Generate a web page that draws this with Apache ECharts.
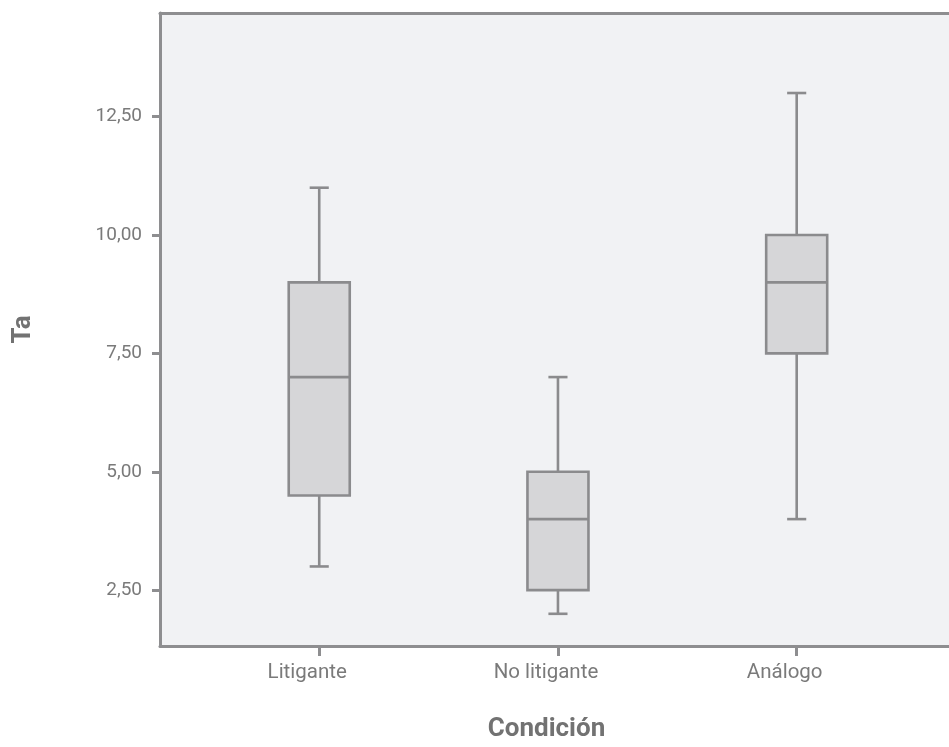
<!DOCTYPE html>
<html>
<head>
<meta charset="utf-8">
<script src="https://cdn.jsdelivr.net/npm/echarts@6/dist/echarts.min.js"></script>
<style>html,body{margin:0;padding:0;background:#fff}#c{width:949px;height:747px}</style>
</head>
<body>
<div id="c"></div>
<script>
const categories = ['Litigante', 'No litigante', 'Análogo'];
const mins    = [3, 2, 4];
const q1s     = [4.5, 2.5, 7.5];
const medians = [7, 4, 9];
const q3s     = [9, 5, 10];
const maxs    = [11, 7, 13];
const yTicks  = [2.5, 5, 7.5, 10, 12.5];

const data = categories.map((c, i) => [i + 1, mins[i], q1s[i], medians[i], q3s[i], maxs[i]]);

const lineColor = '#8b8b8d';
const axisColor = '#8e8e90';
const labelColor = '#7a7a7a';
const titleColor = '#727272';

const chart = echarts.init(document.getElementById('c'), null, {renderer: 'canvas'});
chart.setOption({
  animation: false,
  grid: {left: 160, right: 0, top: 13, bottom: 100, show: true, backgroundColor: '#f1f2f4', borderWidth: 0},
  xAxis: [{
    type: 'value', min: 0.333, max: 3.638,
    name: 'Condición', nameLocation: 'middle', nameGap: 70,
    nameTextStyle: {fontFamily: 'Roboto', fontWeight: 'bold', fontSize: 26, color: titleColor, padding: [0, 16, 0, 0]},
    axisLine: {show: true, lineStyle: {color: axisColor, width: 3}},
    axisTick: {show: true, customValues: [1, 2, 3], length: 10, lineStyle: {color: axisColor, width: 3}},
    axisLabel: {customValues: [1, 2, 3], margin: 16, fontFamily: 'Roboto', fontSize: 20.5, color: labelColor,
      padding: [0, 24, 0, 0],
      formatter: v => categories[Math.round(v) - 1] || ''},
    splitLine: {show: false}
  }, {
    type: 'value', position: 'top', min: 0.333, max: 3.638,
    axisLine: {show: true, onZero: false, lineStyle: {color: axisColor, width: 3}},
    axisTick: {show: false}, axisLabel: {show: false}, splitLine: {show: false}
  }],
  yAxis: {
    type: 'value', min: 1.32, max: 14.69,
    name: 'Ta', nameLocation: 'middle', nameGap: 124,
    nameTextStyle: {fontFamily: 'Roboto', fontWeight: 'bold', fontSize: 26, color: titleColor},
    axisLine: {show: true, lineStyle: {color: axisColor, width: 3}},
    axisTick: {show: true, customValues: yTicks, length: 8, lineStyle: {color: axisColor, width: 3}},
    axisLabel: {customValues: yTicks, margin: 18, fontFamily: 'Roboto', fontSize: 19, color: labelColor,
      formatter: v => v.toFixed(2).replace('.', ',')},
    splitLine: {show: false}
  },
  series: [{
    type: 'custom',
    xAxisIndex: 0,
    data: data,
    encode: {x: 0, y: [1, 2, 3, 4, 5]},
    renderItem: function (params, api) {
      const x = api.value(0);
      const pMin = api.coord([x, api.value(1)]);
      const pQ1 = api.coord([x, api.value(2)]);
      const pMed = api.coord([x, api.value(3)]);
      const pQ3 = api.coord([x, api.value(4)]);
      const pMax = api.coord([x, api.value(5)]);
      const bw = api.size([0.2556, 0])[0];
      const cw = api.size([0.08, 0])[0];
      const cx = pMed[0];
      const st = {stroke: lineColor, lineWidth: 2.6, fill: null};
      return {
        type: 'group',
        children: [
          {type: 'line', shape: {x1: cx, y1: pQ3[1], x2: cx, y2: pMax[1]}, style: st},
          {type: 'line', shape: {x1: cx, y1: pQ1[1], x2: cx, y2: pMin[1]}, style: st},
          {type: 'line', shape: {x1: cx - cw / 2, y1: pMax[1], x2: cx + cw / 2, y2: pMax[1]}, style: st},
          {type: 'line', shape: {x1: cx - cw / 2, y1: pMin[1], x2: cx + cw / 2, y2: pMin[1]}, style: st},
          {type: 'rect', shape: {x: cx - bw / 2, y: pQ3[1], width: bw, height: pQ1[1] - pQ3[1]},
            style: {fill: '#d6d6d8', stroke: lineColor, lineWidth: 2.6}},
          {type: 'line', shape: {x1: cx - bw / 2, y1: pMed[1], x2: cx + bw / 2, y2: pMed[1]}, style: st}
        ]
      };
    }
  }]
});
</script>
</body>
</html>
